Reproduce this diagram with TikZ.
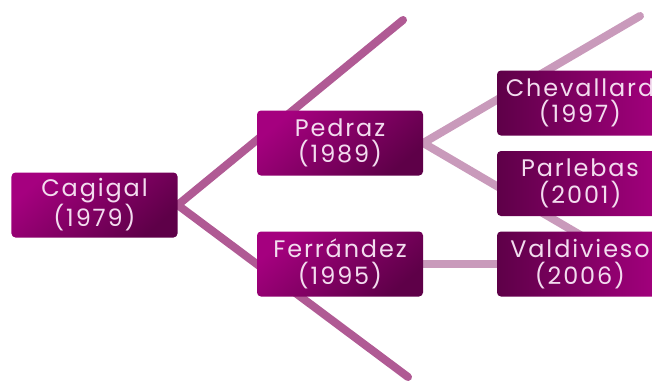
\documentclass[tikz,border=0pt]{standalone}
\usepackage{fontspec}
\setmainfont{Poppins}[LetterSpace=8]
\usetikzlibrary{backgrounds}
\definecolor{boxbright}{HTML}{A5007F}
\definecolor{boxdark}{HTML}{5E0048}
\definecolor{txt}{HTML}{F3DCEF}
\definecolor{linedark}{HTML}{B05A94}
\definecolor{linelight}{HTML}{C99ABB}
\tikzset{
  leftbox/.style={rounded corners=4bp, minimum width=166bp, minimum height=65bp,
    inner sep=0pt, align=center, text=txt, font=\fontsize{24}{26.5}\selectfont,
    shading=axis, top color=boxbright, bottom color=boxdark, shading angle=40},
  rightbox/.style={rounded corners=4bp, minimum width=166bp, minimum height=65bp,
    inner sep=0pt, align=center, text=txt, font=\fontsize{24}{26.5}\selectfont,
    left color=boxdark, right color=boxbright},
  mainline/.style={line width=8bp, line cap=round, draw=linedark},
  subline/.style={line width=8bp, line cap=round, draw=linelight},
}
\begin{document}
\begin{tikzpicture}[x=1bp,y=-1bp]
\useasboundingbox (0,0) rectangle (652,385);
\clip (0,0) rectangle (652,385);
\node[leftbox] (cagigal) at (94.5,205) {Cagigal\\(1979)};
\node[leftbox] (pedraz) at (340,143) {Pedraz\\(1989)};
\node[leftbox] (ferrandez) at (340,264) {Ferrández\\(1995)};
\node[rightbox] (chevallard) at (580,103) {Chevallard\\(1997)};
\node[rightbox] (parlebas) at (580,183.5) {Parlebas\\(2001)};
\node[rightbox] (valdivieso) at (580,264) {Valdivieso\\(2006)};
\coordinate (c1) at (403,20);
\coordinate (c2) at (408,377);
\coordinate (p1) at (640,16);
\coordinate (p2) at (640,270);
\begin{scope}[on background layer]
\draw[mainline] (cagigal.east) -- (c1);
\draw[mainline] (cagigal.east) -- (c2);
\draw[subline] (pedraz.east) -- (p1);
\draw[subline] (pedraz.east) -- (p2);
\draw[subline] (ferrandez.east) -- (valdivieso.west);
\end{scope}
\end{tikzpicture}
\end{document}
